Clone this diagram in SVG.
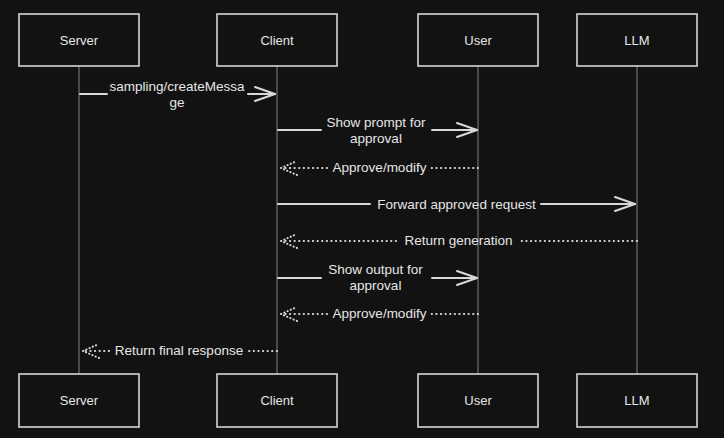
<svg xmlns="http://www.w3.org/2000/svg" width="724" height="438" viewBox="0 0 724 438">
<style>
.bg{fill:#121212}
.box{fill:#121212;stroke:#d6d6d6;stroke-width:1.6}
.life{stroke:#707070;stroke-width:1.2;fill:none}
.msg{stroke:#d8d8d8;stroke-width:2;fill:none;stroke-linecap:round}
.dot{stroke:#d8d8d8;stroke-width:2;fill:none;stroke-linecap:round;stroke-dasharray:0.3 4.3}
.nlabel{font-family:"Liberation Sans",Arial,sans-serif;font-size:13px;fill:#e6e6e6;text-anchor:middle}
.mlabel{font-family:"Liberation Sans",Arial,sans-serif;font-size:13.5px;fill:#e6e6e6;text-anchor:middle}
</style>
<defs>
<marker id="ah" markerUnits="userSpaceOnUse" markerWidth="30" markerHeight="30" refX="0" refY="0" orient="auto" overflow="visible">
<path d="M-20 -7 L0 0 L-20 7" fill="none" stroke="#d8d8d8" stroke-width="2" stroke-linecap="round" stroke-linejoin="round"/>
</marker>
<marker id="ahd" markerUnits="userSpaceOnUse" markerWidth="30" markerHeight="30" refX="0" refY="0" orient="auto" overflow="visible">
<path d="M-16 -7 L0 0 L-16 7" fill="none" stroke="#d8d8d8" stroke-width="2" stroke-linecap="round" stroke-dasharray="0.3 3.2"/>
</marker>
</defs>
<rect class="bg" x="0" y="0" width="724" height="438"/>

<g id="lifelines">
<path class="life" d="M79 66 V374"/>
<path class="life" d="M277 66 V374"/>
<path class="life" d="M478 66 V374"/>
<path class="life" d="M637 66 V374"/>
</g>

<g id="server-top"><rect class="box" x="19" y="14" width="120" height="52"/><text class="nlabel" x="79" y="44.5">Server</text></g>
<g id="client-top"><rect class="box" x="217" y="14" width="120" height="52"/><text class="nlabel" x="277" y="44.5">Client</text></g>
<g id="user-top"><rect class="box" x="418" y="14" width="120" height="52"/><text class="nlabel" x="478" y="44.5">User</text></g>
<g id="llm-top"><rect class="box" x="577" y="14" width="120" height="52"/><text class="nlabel" x="637" y="44.5">LLM</text></g>

<g id="server-bottom"><rect class="box" x="19" y="374" width="120" height="53"/><text class="nlabel" x="79" y="404.5">Server</text></g>
<g id="client-bottom"><rect class="box" x="217" y="374" width="120" height="53"/><text class="nlabel" x="277" y="404.5">Client</text></g>
<g id="user-bottom"><rect class="box" x="418" y="374" width="120" height="53"/><text class="nlabel" x="478" y="404.5">User</text></g>
<g id="llm-bottom"><rect class="box" x="577" y="374" width="120" height="53"/><text class="nlabel" x="637" y="404.5">LLM</text></g>

<g id="connectors">
<g id="m1">
<path class="msg" d="M80 94 H107"/>
<path class="msg" d="M248 94 H275" marker-end="url(#ah)"/>
<text class="mlabel" x="177" y="91">sampling/createMessa</text>
<text class="mlabel" x="177" y="107">ge</text>
</g>
<g id="m2">
<path class="msg" d="M278 130 H321"/>
<path class="msg" d="M432 130 H477" marker-end="url(#ah)"/>
<text class="mlabel" x="376" y="127">Show prompt for</text>
<text class="mlabel" x="376" y="143">approval</text>
</g>
<g id="m3">
<path class="dot" d="M478 168 H429"/>
<path class="dot" d="M327 168 H281" marker-end="url(#ahd)"/>
<text class="mlabel" x="379.5" y="172">Approve/modify</text>
</g>
<g id="m4">
<path class="msg" d="M278 204 H370"/>
<path class="msg" d="M541 204 H635" marker-end="url(#ah)"/>
<text class="mlabel" x="456.5" y="208.5">Forward approved request</text>
</g>
<g id="m5">
<path class="dot" d="M637 241 H520"/>
<path class="dot" d="M396 241 H281" marker-end="url(#ahd)"/>
<text class="mlabel" x="458.5" y="245">Return generation</text>
</g>
<g id="m6">
<path class="msg" d="M278 278 H321"/>
<path class="msg" d="M432 278 H477" marker-end="url(#ah)"/>
<text class="mlabel" x="375.5" y="274">Show output for</text>
<text class="mlabel" x="375.5" y="290">approval</text>
</g>
<g id="m7">
<path class="dot" d="M478 314 H429"/>
<path class="dot" d="M327 314 H281" marker-end="url(#ahd)"/>
<text class="mlabel" x="379.5" y="318">Approve/modify</text>
</g>
<g id="m8">
<path class="dot" d="M277 351 H248"/>
<path class="dot" d="M109 351 H83" marker-end="url(#ahd)"/>
<text class="mlabel" x="179" y="355">Return final response</text>
</g>
</g>
</svg>
